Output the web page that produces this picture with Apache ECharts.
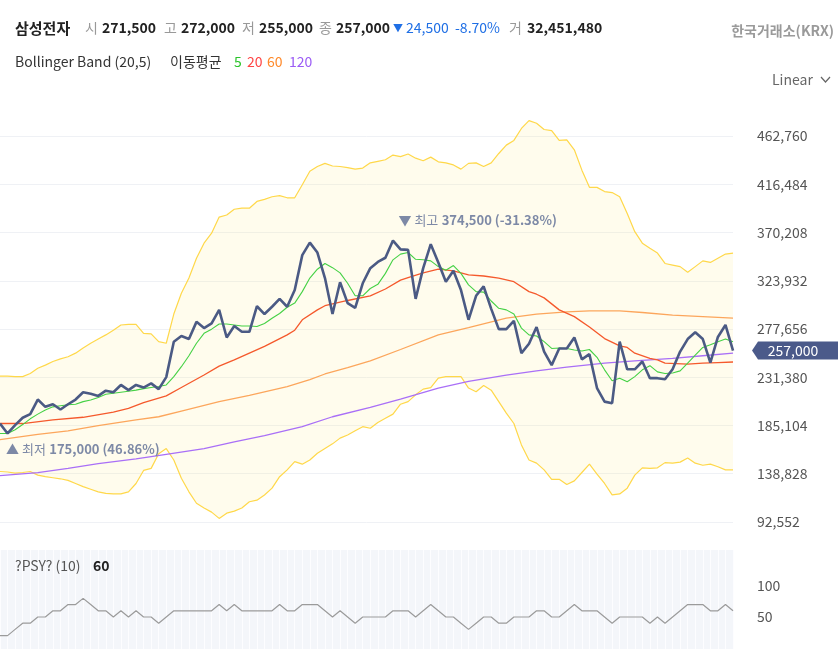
<!DOCTYPE html>
<html><head><meta charset="utf-8">
<script src="https://cdn.jsdelivr.net/npm/echarts@6/dist/echarts.min.js"></script>
<style>html,body{margin:0;padding:0;background:#fff}#c{width:838px;height:657px}</style>
</head><body><div id="c"></div>
<script>
// day index of the first data point (the first point sits just left of the plot edge)
const startIndex = -1;
const closes = [187000,177500,185500,192500,196000,210000,203000,205500,200500,205500,210000,217000,215500,213500,218500,217000,224000,219000,224000,221500,225500,220000,231500,265500,271000,268000,284500,278500,283000,296000,269500,280500,275000,275000,299500,292000,299000,306500,299000,315000,348500,360500,351000,326500,292000,322500,302500,298000,321500,336000,342000,346000,362500,354000,353500,306500,336000,359000,341500,323000,333500,315000,286500,309500,318500,297000,277500,277500,285500,254500,263500,279500,256000,243000,259000,259000,269500,248500,253500,221000,208000,206500,265500,239000,239000,246500,230500,230500,229500,239000,256000,268000,274500,268000,245500,270000,281500,257000];
const ma5 = [177500,177500,181000,186000,191500,196000,200000,203000,204000,205000,205500,208000,209500,212000,215000,216000,217000,218000,219000,220500,221500,222500,224000,232000,241500,252000,264000,273500,277500,282500,282500,281500,280500,280500,280000,283000,288000,292500,298500,302500,313500,326500,335000,340500,336500,331500,321500,309500,309500,316500,320500,331000,344000,349500,351000,344500,344000,343000,337500,334000,338500,331000,320000,313500,313000,304500,297500,296000,292000,278500,272000,271000,265500,259000,259500,259000,257500,256500,258000,250500,238500,228000,230500,227000,232000,238500,242500,236500,235000,235500,237500,245000,252500,260000,262500,265500,268000,265500];
const bbUpper = [232500,232500,232000,232000,235000,240000,243000,246500,249000,251000,254500,259500,264000,268000,272000,276500,281500,282000,282000,273500,273000,265500,264000,292000,312000,326500,345500,360000,369500,385000,387000,392500,393500,393500,400000,402000,404500,405500,403500,403500,416000,429000,433500,436500,434000,433500,432500,431000,432000,437000,438500,440000,444500,443000,445500,441500,439000,442500,438000,437000,435000,431000,436500,437000,433500,437000,446000,454000,458500,470000,477500,475000,469000,468000,458500,459000,449500,430000,413500,413500,409500,408500,404500,388500,371000,360000,355000,350500,340500,339000,337500,332000,337500,343000,341500,345500,349500,350500];
const bbLower = [141000,140500,139500,140000,141000,137500,136000,135000,134000,132500,129500,126500,124000,121500,120000,119500,119500,121500,129500,142000,144000,158000,163000,152000,134500,121500,110500,106000,102000,96000,101000,103000,106000,112000,113500,118500,125000,136000,142500,150500,148000,152000,158500,163000,167500,173000,176000,180000,184000,182500,188000,192000,196000,205500,208000,214500,220000,221500,230500,232000,232000,232000,221000,217500,223500,219000,208000,197000,187000,166500,152000,149000,142500,133500,133500,128500,132000,140000,148000,138500,129500,118500,119500,125000,137500,144500,144000,144500,149500,149000,150000,154000,149000,147000,148000,145500,142500,142500];
const psy = [20,20,30,40,40,50,50,60,60,70,70,80,70,60,60,50,60,50,60,50,50,40,50,60,60,60,60,60,60,70,60,70,60,60,60,60,60,70,60,60,70,70,70,60,50,60,50,40,50,50,50,50,60,60,60,50,60,70,60,50,50,40,30,40,50,50,40,40,50,50,50,60,60,50,50,60,70,60,60,60,50,40,50,50,50,50,40,50,40,50,60,70,70,70,60,60,70,60];
// smooth moving averages read at selected days: [day index, value]
const ma20 = [[-1,187000],[2,187000],[6,190500],[10,193000],[14,198000],[16,201500],[18,207000],[21,213500],[23,221500],[26,233500],[28,242000],[30,248000],[32,254500],[34,261000],[37,272000],[38,276500],[39,286500],[41,296000],[42,300000],[45,305000],[48,309500],[50,316000],[52,324500],[53,327000],[55,331500],[57,335000],[59,333500],[61,329500],[63,328500],[65,326500],[67,323000],[69,313500],[70,311000],[71,307500],[73,296000],[75,289500],[77,279500],[79,268500],[81,261500],[82,260000],[83,254500],[85,249500],[86,248000],[87,245000],[90,244000],[92,245000],[94,245500],[96,246000]];
const ma60 = [[-1,171500],[4,176500],[8,180000],[12,185000],[17,190500],[20,193500],[23,199000],[28,208000],[32,214000],[37,222500],[40,229000],[42,234500],[45,240500],[48,247000],[52,258000],[57,272000],[61,279000],[66,288000],[70,292000],[74,294000],[77,295000],[81,295000],[84,293500],[88,291000],[92,289500],[96,288000]];
const ma120 = [[-1,137000],[4,140000],[8,144000],[12,148500],[17,153000],[21,157500],[26,163000],[30,169500],[34,175500],[39,184000],[43,193500],[48,202500],[52,210500],[57,221000],[61,227500],[66,233500],[70,237500],[74,241000],[79,245000],[83,247000],[88,249500],[92,252000],[96,254500]];
const priceTicks = [92552,138828,185104,231380,277656,323932,370208,416484,462760];
const psyTicks = [50,100];
const quoteLabels = ['시','고','저','종'];
const quoteValues = [271500,272000,255000,257000];
const changeValue = 24500;
const changePct = '-8.70%';
const volume = 32451480;
const highMark = [51, 374500, '-31.38%'];
const lowMark = [0, 175000, '46.86%'];
const lastPsy = 60;

const FONT = "'Noto Sans CJK KR','Noto Sans',sans-serif";
const fmt = n => String(n).replace(/\B(?=(\d{3})+(?!\d))/g, ',');
const days = closes.map((_, i) => String(i + startIndex));
const pos = k => k - startIndex;               // day index -> category position
const sparse = arr => arr.map(p => [pos(p[0]), p[1]]);
const bandWidth = bbUpper.map((u, i) => u - bbLower[i]);
const lastPos = closes.length - 1;
const lastClose = closes[closes.length - 1];

function txt(x, y, text, size, color, weight, align) {
  return { type: 'text', x: x, y: y, z: 100, silent: true,
    style: { text: text, fill: color, font: (weight || 'normal') + ' ' + size + 'px ' + FONT,
      textAlign: align || 'left', textVerticalAlign: 'middle', align: align || 'left', verticalAlign: 'middle' } };
}

const headerX = [[85,102],[164,181],[242,259],[319,336]];
const graphics = [txt(15, 28, '삼성전자', 15, '#222', 'bold')];
quoteLabels.forEach((l, i) => {
  graphics.push(txt(headerX[i][0], 28, l, 14, '#999'));
  graphics.push(txt(headerX[i][1], 28, fmt(quoteValues[i]), 14, '#222', 'bold'));
});
graphics.push(txt(393, 28, '▼', 10, '#1f6fe5'));
graphics.push(txt(406, 28, fmt(changeValue), 14, '#1f6fe5'));
graphics.push(txt(455, 28, changePct, 14, '#1f6fe5'));
graphics.push(txt(509, 28, '거', 14, '#999'));
graphics.push(txt(527, 28, fmt(volume), 14, '#222', 'bold'));
graphics.push(txt(834, 31, '한국거래소(KRX)', 14, '#9a9a9a', 'bold', 'right'));
graphics.push(txt(15, 62, 'Bollinger Band (20,5)', 14, '#333'));
graphics.push(txt(170, 62, '이동평균', 14, '#333'));
graphics.push(txt(234, 62, '5', 14, '#2bc42b'));
graphics.push(txt(247, 62, '20', 14, '#ff4545'));
graphics.push(txt(267, 62, '60', 14, '#ff8a2b'));
graphics.push(txt(289, 62, '120', 14, '#9b5cf5'));
graphics.push(txt(772, 80, 'Linear', 14, '#666'));
graphics.push({ type: 'polyline', z: 100, silent: true, shape: { points: [[821, 77], [825.5, 82], [830, 77]] },
  style: { stroke: '#666', lineWidth: 1.2, fill: null } });
graphics.push(txt(15, 566, '?PSY? (10)', 14, '#555'));
graphics.push(txt(93, 566, String(lastPsy), 14, '#222', 'bold'));

const markLabelRich = {
  a: { color: '#7d89a6', fontSize: 13, fontFamily: FONT },
  b: { color: '#7d89a6', fontSize: 13, fontWeight: 'bold', fontFamily: FONT }
};

const chart = echarts.init(document.getElementById('c'), null, { renderer: 'canvas' });
chart.setOption({
  animation: false,
  backgroundColor: '#ffffff',
  graphic: graphics,
  grid: [
    { left: -1.57, top: 100, width: 734.6, height: 446, containLabel: false },
    { left: -1.57, top: 550, width: 734.6, height: 99, containLabel: false, show: true, backgroundColor: '#f4f6fa', borderWidth: 0 }
  ],
  xAxis: [
    { type: 'category', gridIndex: 0, data: days, boundaryGap: false, show: false },
    { type: 'category', gridIndex: 1, data: days, boundaryGap: false,
      axisLine: { show: false }, axisTick: { show: false }, axisLabel: { show: false },
      splitLine: { show: true, interval: 0, lineStyle: { color: '#fdfdff', width: 1 } } }
  ],
  yAxis: [
    { type: 'value', gridIndex: 0, position: 'right', min: 69533, max: 497288,
      axisLine: { show: false },
      axisTick: { show: false, customValues: priceTicks },
      axisLabel: { customValues: priceTicks, formatter: v => fmt(v), color: '#555', fontSize: 14, margin: 24, fontFamily: FONT },
      splitLine: { show: true, lineStyle: { color: '#eff1f5', width: 1 } } },
    { type: 'value', gridIndex: 1, position: 'right', min: -1.6, max: 158,
      axisLine: { show: false },
      axisTick: { show: false, customValues: psyTicks },
      axisLabel: { customValues: psyTicks, color: '#555', fontSize: 14, margin: 24, fontFamily: FONT },
      splitLine: { show: false } }
  ],
  series: [
    { name: 'BB lower', type: 'line', data: bbLower, stack: 'bb',
      symbol: 'none', lineStyle: { color: '#ffd84a', width: 1.2 }, z: 1 },
    { name: 'BB upper', type: 'line', data: bandWidth, stack: 'bb',
      symbol: 'none', lineStyle: { color: '#ffd84a', width: 1.2 }, areaStyle: { color: 'rgba(255,232,125,0.2)' }, z: 1 },
    { name: 'MA120', type: 'line', data: sparse(ma120), symbol: 'none', lineStyle: { color: '#a96ff7', width: 1.3 }, z: 2 },
    { name: 'MA60', type: 'line', data: sparse(ma60), symbol: 'none', lineStyle: { color: '#fca65c', width: 1.3 }, z: 2 },
    { name: 'MA20', type: 'line', data: sparse(ma20), symbol: 'none', lineStyle: { color: '#f5592c', width: 1.3 }, z: 2 },
    { name: 'MA5', type: 'line', data: ma5, symbol: 'none', lineStyle: { color: '#45d145', width: 1.1 }, z: 3 },
    { name: 'Close', type: 'line', data: closes, symbol: 'none', lineStyle: { color: '#4b5a84', width: 2.6 }, z: 5,
      markPoint: {
        silent: true,
        data: [
          { coord: [pos(highMark[0]), highMark[1]], symbol: 'circle', symbolSize: 1, itemStyle: { color: 'rgba(0,0,0,0)' },
            label: { show: true, position: 'right', distance: 5, offset: [0, -8],
              formatter: '{a|▼ 최고} {b|' + fmt(highMark[1]) + ' (' + highMark[2] + ')}', rich: markLabelRich } },
          { coord: [pos(lowMark[0]), lowMark[1]], symbol: 'circle', symbolSize: 1, itemStyle: { color: 'rgba(0,0,0,0)' },
            label: { show: true, position: 'right', distance: 0, offset: [-2, 13],
              formatter: '{a|▲ 최저} {b|' + fmt(lowMark[1]) + ' (' + lowMark[2] + ')}', rich: markLabelRich } },
          { coord: [lastPos, lastClose], symbol: 'path://M0,9 L6,0 L86,0 L86,18 L6,18 Z', symbolSize: [86, 18],
            symbolKeepAspect: false, symbolOffset: [62, 0], itemStyle: { color: '#4b5a8a' },
            label: { show: true, position: 'inside', offset: [-2, 0], color: '#fff', fontSize: 14, fontFamily: FONT,
              formatter: fmt(lastClose) } }
        ]
      } },
    { name: 'PSY', type: 'line', xAxisIndex: 1, yAxisIndex: 1, data: psy, symbol: 'none',
      lineStyle: { color: '#9b9b9b', width: 1.2 }, z: 3 }
  ]
});
</script></body></html>
